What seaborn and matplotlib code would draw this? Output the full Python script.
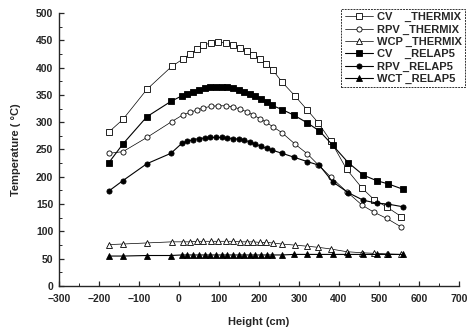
import numpy as np
import pandas as pd
import matplotlib
matplotlib.use("Agg")
import matplotlib.pyplot as plt
import seaborn as sns
from matplotlib.ticker import MultipleLocator

# x grids (cm)
x_thermix = [-175, -140, -80, -18, 9, 28, 44, 61, 80, 98, 118, 134, 153, 169, 186,
             203, 218, 234, 257, 290, 321, 348, 379, 419, 458, 488, 519, 556]
x_relap = [-175, -140, -80, -20, 7, 21, 35, 50, 64, 78, 92, 107, 121, 135, 149, 163,
           177, 191, 205, 219, 232, 258, 287, 320, 351, 384, 423, 461, 494, 523, 561]

cv_thermix = [282, 305, 360, 402, 415, 425, 433, 441, 445, 446, 445, 442, 436, 430, 423,
              415, 407, 396, 374, 348, 322, 299, 266, 214, 179, 158, 145, 127]
rpv_thermix = [243, 246, 272, 301, 313, 318, 322, 326, 329, 330, 330, 328, 324, 319, 313,
               306, 300, 292, 281, 260, 242, 222, 200, 173, 148, 135, 124, 108]
wcp_thermix = [76, 77, 79, 81, 81, 81, 82, 82, 82, 82, 82, 82, 81, 81, 81,
               80, 80, 79, 77, 75, 73, 71, 68, 63, 61, 60, 59, 58]

cv_relap = [226, 260, 310, 338, 348, 352, 356, 359, 362, 364, 365, 365, 364, 362, 359, 356,
            352, 348, 343, 337, 331, 323, 313, 299, 284, 258, 226, 203, 193, 187, 177]
rpv_relap = [174, 193, 224, 243, 261, 265, 268, 270, 271, 272, 272, 272, 271, 270, 269, 267,
             264, 260, 256, 252, 249, 243, 236, 228, 221, 191, 171, 157, 152, 150, 145]
wct_relap = [55, 55, 56, 56, 57, 57, 57, 57, 57, 57, 57, 57, 57, 57, 57, 57,
             57, 57, 57, 57, 57, 57, 58, 58, 58, 58, 58, 58, 58, 58, 58]

labels = ["CV    _THERMIX", "RPV _THERMIX", "WCP _THERMIX",
          "CV    _RELAP5", "RPV _RELAP5", "WCT _RELAP5"]

sns.set_theme(style="ticks")
plt.rcParams['font.family'] = ['Liberation Sans', 'DejaVu Sans']

fig = plt.figure(figsize=(4.67, 3.30), dpi=100)
ax = fig.add_axes([0.126, 0.133, 0.857, 0.828])

series = [
    (x_thermix, cv_thermix, labels[0], 's', 'white', 0.5),
    (x_thermix, rpv_thermix, labels[1], 'o', 'white', 0.5),
    (x_thermix, wcp_thermix, labels[2], '^', 'white', 0.5),
    (x_relap, cv_relap, labels[3], 's', 'black', 0.8),
    (x_relap, rpv_relap, labels[4], 'o', 'black', 0.8),
    (x_relap, wct_relap, labels[5], '^', 'black', 0.8),
]
for xs, ys, lab, mk, fc, lw in series:
    df = pd.DataFrame({"x": xs, "y": ys})
    sns.lineplot(data=df, x="x", y="y", ax=ax, sort=False, estimator=None,
                 color="black", lw=lw, marker=mk, markersize=3.7,
                 markerfacecolor=fc, markeredgecolor="black", markeredgewidth=0.6,
                 label=lab)

ax.set_xlim(-300, 700)
ax.set_ylim(0, 500)
ax.xaxis.set_major_locator(MultipleLocator(100))
ax.xaxis.set_minor_locator(MultipleLocator(50))
ax.yaxis.set_major_locator(MultipleLocator(50))
ax.yaxis.set_minor_locator(MultipleLocator(25))
ax.tick_params(axis='both', which='major', direction='in', length=3.5, width=0.9,
               labelsize=7.5)
ax.tick_params(axis='x', which='major', pad=6)
ax.tick_params(axis='y', which='major', pad=4)
ax.tick_params(axis='both', which='minor', direction='in', length=2, width=0.7)
for lab in ax.get_xticklabels() + ax.get_yticklabels():
    lab.set_fontweight('bold')
ax.spines['top'].set_visible(False)
ax.spines['right'].set_visible(False)
ax.spines['left'].set_linewidth(1.0)
ax.spines['bottom'].set_linewidth(1.0)
ax.set_xlabel("Height (cm)", fontsize=8, fontweight='bold', labelpad=9)
ax.set_ylabel("Temperature ( °C)", fontsize=8, fontweight='bold', labelpad=11)

leg = ax.legend(loc='upper right', bbox_to_anchor=(465/467, 1 - 9/330),
                bbox_transform=fig.transFigure, fontsize=8, frameon=True,
                fancybox=False, edgecolor='black', handlelength=2.6,
                handletextpad=0.3, borderpad=0.3, labelspacing=0.2,
                borderaxespad=0)
leg.get_frame().set_linewidth(0.7)
leg.get_frame().set_linestyle((0, (2, 1)))
for t in leg.get_texts():
    t.set_fontweight('bold')

fig.savefig("out.png", dpi=100)
